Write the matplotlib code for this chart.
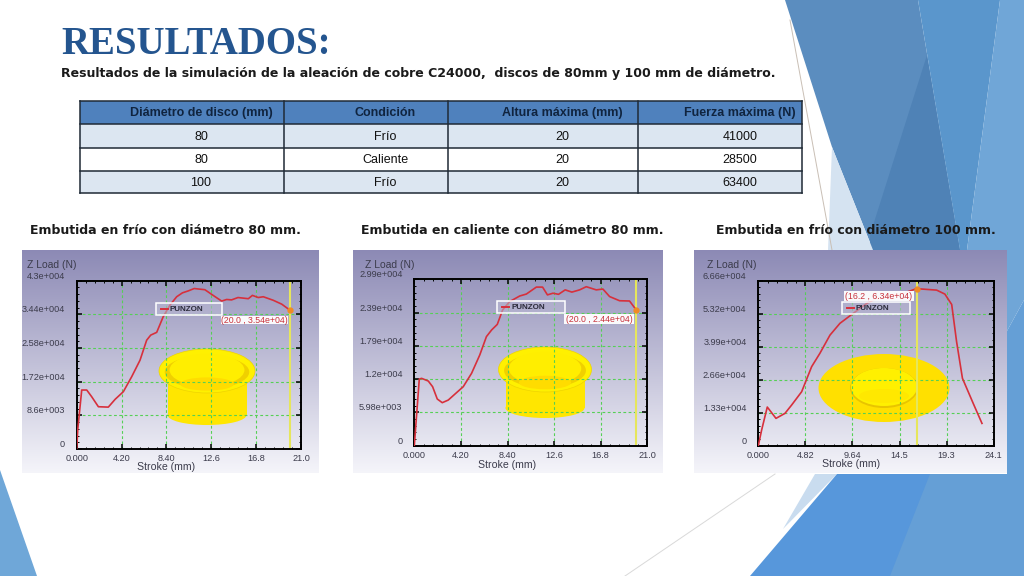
"""
Slide with a results table and three punch load curves.
"""

import matplotlib

matplotlib.use("Agg")

import matplotlib.pyplot as plt
import numpy as np
from matplotlib.patches import Ellipse, Polygon, Rectangle
from matplotlib.ticker import AutoMinorLocator

WIDTH = 1024
HEIGHT = 576

TABLE_HEADER = ["Diámetro de disco (mm)", "Condición", "Altura máxima (mm)", "Fuerza máxima (N)"]
TABLE_DIAMETER = ["80", "80", "100"]
TABLE_CONDITION = ["Frío", "Caliente", "Frío"]
TABLE_HEIGHT = ["20", "20", "20"]
TABLE_FORCE = ["41000", "28500", "63400"]

STROKE_1 = [0, 0.1, 0.47, 0.94, 1.4, 2.03, 2.96, 3.6, 4.37, 5.15, 5.93, 6.55, 6.93, 7.49, 8.1, 8.74, 9.36,
            9.9, 10.45, 11, 12, 12.8, 13.57, 14.04, 14.5, 15.1, 16.07, 16.45, 17, 17.47, 18.4, 19.2, 20]
LOAD_1 = [0, 5000, 15070, 15070, 13370, 10800, 10700, 12700, 14650, 18480, 22700, 27800, 29100, 29800,
          33800, 36800, 38900, 39900, 40400, 41000, 40700, 39200, 37800, 38200, 38100, 38700, 38400,
          39250, 38700, 38900, 38000, 37000, 35400]

STROKE_2 = [0, 0.45, 0.66, 1.26, 1.65, 2.07, 2.52, 3.06, 3.8, 4.41, 5.16, 5.9, 6.5, 6.97, 7.48, 7.96, 8.6,
            9.5, 10.1, 11, 11.56, 12, 12.5, 13, 13.6, 14.2, 14.9, 15.5, 16.4, 17, 17.6, 18.5, 19.4, 20]
LOAD_2 = [0, 11980, 12100, 11620, 10600, 8390, 7730, 8200, 9520, 10600, 13000, 16300, 19600, 20800, 21800,
          24400, 25900, 26900, 27250, 28500, 28500, 27100, 27400, 27200, 28000, 27600, 28000, 28570,
          28000, 28150, 26800, 26050, 26000, 24400]

STROKE_3 = [0, 0.34, 0.92, 1.81, 2.73, 3.41, 4.44, 5.46, 6.3, 7.34, 8.36, 9.39, 10.4, 11.1, 12.1, 13.5,
            14.85, 16.2, 17.2, 18.26, 19.1, 19.8, 20.3, 20.9, 22, 22.9]
LOAD_3 = [0, 6300, 15600, 11030, 13050, 16400, 21800, 31900, 37250, 44650, 49400, 52450, 55400, 57400,
          59450, 60800, 61500, 63400, 63100, 62800, 61200, 57000, 42000, 27200, 17100, 9000]

XTICKS_1 = [0, 4.2, 8.4, 12.6, 16.8, 21.0]
XLABELS_1 = ["0.000", "4.20", "8.40", "12.6", "16.8", "21.0"]
YTICKS_1 = [0, 8600, 17200, 25800, 34400, 43000]
YLABELS_1 = ["0", "8.6e+003", "1.72e+004", "2.58e+004", "3.44e+004", "4.3e+004"]

XTICKS_2 = XTICKS_1
XLABELS_2 = XLABELS_1
YTICKS_2 = [0, 5980, 11960, 17940, 23920, 29900]
YLABELS_2 = ["0", "5.98e+003", "1.2e+004", "1.79e+004", "2.39e+004", "2.99e+004"]

XTICKS_3 = [0, 4.82, 9.64, 14.46, 19.28, 24.1]
XLABELS_3 = ["0.000", "4.82", "9.64", "14.5", "19.3", "24.1"]
YTICKS_3 = [0, 13320, 26640, 39960, 53280, 66600]
YLABELS_3 = ["0", "1.33e+004", "2.66e+004", "3.99e+004", "5.32e+004", "6.66e+004"]

CURSOR_X = [20.0, 20.0, 16.2]
CURSOR_Y = [35400, 24400, 63400]
CURSOR_LABELS = ["(20.0 , 3.54e+04)", "(20.0 , 2.44e+04)", "(16.2 , 6.34e+04)"]
CAPTIONS = [
    "Embutida en frío con diámetro 80 mm.",
    "Embutida en caliente con diámetro 80 mm.",
    "Embutida en frío con diámetro 100 mm.",
]


def full_axes(figure, zorder):
    axis = figure.add_axes([0, 0, 1, 1], zorder=zorder)
    axis.set_xlim(0, WIDTH)
    axis.set_ylim(HEIGHT, 0)
    axis.axis("off")
    axis.patch.set_alpha(0)
    return axis


def draw_background(axis):
    shapes = [
        ([(785, 0), (918, 0), (960, 250), (873, 250), (832, 147)], "#5b8dbf"),
        ([(927, 55), (960, 250), (870, 250), (870, 235)], "#4f82b6"),
        ([(918, 0), (1000, 0), (967, 250), (960, 250)], "#5a96cc"),
        ([(1000, 0), (1024, 0), (1024, 300), (1007, 331), (1007, 250), (967, 250)], "#70a6d7"),
        ([(832, 147), (873, 250), (828, 250)], "#d5e3f1"),
        ([(815, 474), (837, 474), (783, 529)], "#c9dcef"),
        ([(750, 576), (837, 474), (930, 474), (1010, 576)], "#5797db"),
        ([(930, 474), (1007, 474), (1007, 331), (1024, 300), (1024, 576), (890, 576)], "#659fd6"),
        ([(0, 470), (37, 576), (0, 576)], "#6fa7d8"),
    ]
    for points, color in shapes:
        axis.add_patch(Polygon(points, closed=True, facecolor=color, edgecolor="none", zorder=1))
    axis.plot([790, 832], [20, 250], color="#c9bfb5", linewidth=0.7, zorder=1.5)
    axis.plot([625, 775], [576, 474], color="#d9d9d9", linewidth=0.7, zorder=1.5)


def draw_panel(axis, left, right):
    top, bottom = 250, 473
    shade = np.linspace(0, 1, 200)[:, None, None]
    upper = np.array([0.55, 0.54, 0.71]).reshape(1, 1, 3)
    lower = np.array([0.96, 0.96, 0.98]).reshape(1, 1, 3)
    gradient = upper * (1 - shade) + lower * shade
    axis.imshow(gradient, extent=(left, right, bottom, top), aspect="auto", zorder=2)
    axis.set_xlim(0, WIDTH)
    axis.set_ylim(HEIGHT, 0)


def draw_bowl(axis, center, rim_top, rim_width, rim_height, body_width, body_bottom):
    rim_y = rim_top + rim_height / 2
    body_left = center - body_width / 2
    axis.add_patch(Rectangle((body_left, rim_y), body_width, body_bottom - rim_y - 10,
                             facecolor="#ffe600", edgecolor="none", zorder=3))
    axis.add_patch(Ellipse((center, body_bottom - 10), body_width, 20, facecolor="#ffe600",
                           edgecolor="none", zorder=3))
    axis.add_patch(Ellipse((center, rim_y), rim_width, rim_height, facecolor="#fff000",
                           edgecolor="#eed400", linewidth=0.5, zorder=3.1))
    axis.add_patch(Ellipse((center, rim_y + 1), rim_width * 0.88, rim_height * 0.76, facecolor="#f0d000",
                           edgecolor="none", zorder=3.2))
    axis.add_patch(Ellipse((center, rim_y - 1), rim_width * 0.78, rim_height * 0.74, facecolor="#ffee00",
                           edgecolor="none", zorder=3.3))
    axis.add_patch(Ellipse((center, rim_y + 13), rim_width * 0.56, rim_height * 0.3, facecolor="#ffdc00",
                           edgecolor="none", zorder=3.4))


def draw_disc(axis, center_x, center_y):
    axis.add_patch(Ellipse((center_x, center_y), 131, 68, facecolor="#ffe000", edgecolor="none", zorder=3))
    axis.add_patch(Ellipse((center_x, center_y), 68, 40, facecolor="#e8c400", edgecolor="none", zorder=3.1))
    axis.add_patch(Ellipse((center_x, center_y - 1), 66, 38, facecolor="#fff000", edgecolor="none", zorder=3.2))
    axis.add_patch(Ellipse((center_x, center_y + 8), 50, 14, facecolor="#ffe800", edgecolor="none", zorder=3.3))


def draw_chart(figure, box, stroke, load, xticks, xlabels, yticks, ylabels, cursor_x, cursor_y):
    left, top, right, bottom = box
    axis = figure.add_axes(
        [left / WIDTH, 1 - bottom / HEIGHT, (right - left) / WIDTH, (bottom - top) / HEIGHT], zorder=2
    )
    axis.patch.set_alpha(0)
    axis.grid(color="#55d055", linestyle=(0, (2.5, 2.2)), linewidth=0.8)
    axis.axvline(cursor_x, color="#e6e65c", linewidth=1.5, zorder=2)
    axis.plot(stroke, load, color="#d7303c", linewidth=1.2, zorder=3)
    axis.plot([cursor_x], [cursor_y], marker="o", markersize=3.5, color="#f08a24", zorder=4)
    axis.set_xlim(xticks[0], xticks[-1])
    axis.set_ylim(yticks[0], yticks[-1])
    axis.set_xticks(xticks)
    axis.set_xticklabels(xlabels)
    axis.set_yticks(yticks)
    axis.set_yticklabels(ylabels, va="bottom")
    axis.xaxis.set_minor_locator(AutoMinorLocator(5))
    axis.yaxis.set_minor_locator(AutoMinorLocator(5))
    axis.tick_params(which="major", direction="in", top=True, right=True, length=3.5, width=1.1,
                     labelsize=6.6, labelcolor="#3c3c4c", pad=8.5)
    axis.tick_params(axis="x", which="major", pad=3.5)
    axis.tick_params(which="minor", direction="in", top=True, right=True, length=1.6, width=0.7)
    for spine in axis.spines.values():
        spine.set_linewidth(1.4)
    return axis


def draw_overlay(axis, legend_box, cursor_box, cursor_label, zload_x, stroke_x, label_y=467):
    x0, y0, x1, y1 = legend_box
    axis.add_patch(Rectangle((x0, y0), x1 - x0, y1 - y0, facecolor="#b9b8d2", alpha=0.55, edgecolor="none"))
    axis.add_patch(Rectangle((x0, y0), x1 - x0, y1 - y0, facecolor="none", edgecolor="white", linewidth=1.1))
    axis.plot([x0 + 5, x0 + 12], [(y0 + y1) / 2] * 2, color="#d7303c", linewidth=1.4)
    axis.text(x0 + 14, (y0 + y1) / 2 + 0.3, "PUNZON", fontsize=5.8, fontweight="bold", color="#2a2a3a",
              va="center", ha="left")

    x0, y0, x1, y1 = cursor_box
    axis.add_patch(Rectangle((x0, y0), x1 - x0, y1 - y0, facecolor="white", edgecolor="none", alpha=0.95))
    axis.text((x0 + x1) / 2, (y0 + y1) / 2 + 0.3, cursor_label, fontsize=6.3, color="#c8323c",
              va="center", ha="center")

    axis.text(zload_x, 265, "Z Load (N)", fontsize=7.5, color="#3c3c4c", ha="center", va="center")
    axis.text(stroke_x, label_y, "Stroke (mm)", fontsize=7.6, color="#3c3c4c", ha="center", va="center")


def draw_table(axis):
    col_edges = [80, 284, 448, 638, 802]
    row_edges = [101, 124, 148, 171, 193]
    text_x = [201, 385, 562, 740]
    rows = list(zip(TABLE_DIAMETER, TABLE_CONDITION, TABLE_HEIGHT, TABLE_FORCE))
    fills = ["#4f81bd", "#dce6f1", "#ffffff", "#dce6f1"]
    for row_index, cells in enumerate([TABLE_HEADER] + rows):
        top, bottom = row_edges[row_index], row_edges[row_index + 1]
        axis.add_patch(Rectangle((col_edges[0], top), col_edges[-1] - col_edges[0], bottom - top,
                                 facecolor=fills[row_index], edgecolor="none", zorder=3))
        for column, cell in enumerate(cells):
            axis.text(text_x[column], (top + bottom) / 2 + 0.5, cell, ha="center", va="center", fontsize=9,
                      color="#10243f" if row_index == 0 else "#111111",
                      fontweight="bold" if row_index == 0 else "normal", zorder=4)
    for y_value in row_edges:
        axis.plot([col_edges[0], col_edges[-1]], [y_value, y_value], color="#1f2a36", linewidth=1.1, zorder=5)
    for x_value in col_edges:
        axis.plot([x_value, x_value], [row_edges[0], row_edges[-1]], color="#1f2a36", linewidth=1.1, zorder=5)


def main():
    plt.rcParams["font.family"] = ["Liberation Sans", "DejaVu Sans"]
    figure = plt.figure(figsize=(WIDTH / 100, HEIGHT / 100), dpi=100, facecolor="white")
    base = full_axes(figure, 0)
    top = full_axes(figure, 3)

    draw_background(base)
    draw_panel(base, 22, 319)
    draw_panel(base, 353, 663)
    draw_panel(base, 694, 1007)
    draw_bowl(base, 207, 349, 96, 44, 79, 425)
    draw_bowl(base, 545, 347, 93, 45, 79, 418)
    draw_disc(base, 884, 388)

    base.text(61, 44, "RESULTADOS:", family="Liberation Serif", fontsize=28, fontweight="bold",
              color="#24558f", va="center", ha="left")
    base.text(61, 73, "Resultados de la simulación de la aleación de cobre C24000,  discos de 80mm y 100 mm de diámetro.",
              family="DejaVu Sans", fontsize=9.0, fontweight="bold", color="#1a1a1a", va="center", ha="left")
    draw_table(base)

    base.text(30, 230, CAPTIONS[0], family="DejaVu Sans", fontsize=9.0, fontweight="bold", color="#1a1a1a", va="center")
    base.text(361, 231, CAPTIONS[1], family="DejaVu Sans", fontsize=9.0, fontweight="bold", color="#1a1a1a", va="center")
    base.text(716, 231, CAPTIONS[2], family="DejaVu Sans", fontsize=9.0, fontweight="bold", color="#1a1a1a", va="center")

    draw_chart(figure, (76.7, 280.7, 301, 449), STROKE_1, LOAD_1, XTICKS_1, XLABELS_1, YTICKS_1, YLABELS_1,
               CURSOR_X[0], CURSOR_Y[0])
    draw_chart(figure, (414.3, 279.3, 647.3, 445.7), STROKE_2, LOAD_2, XTICKS_2, XLABELS_2, YTICKS_2, YLABELS_2,
               CURSOR_X[1], CURSOR_Y[1])
    draw_chart(figure, (758.3, 280.7, 993.7, 445.7), STROKE_3, LOAD_3, XTICKS_3, XLABELS_3, YTICKS_3, YLABELS_3,
               CURSOR_X[2], CURSOR_Y[2])

    draw_overlay(top, (156, 303, 222, 315), (221, 316, 288, 324), CURSOR_LABELS[0], 52, 166)
    draw_overlay(top, (497, 301, 565, 313), (564, 314, 634, 324), CURSOR_LABELS[1], 390, 507, 465)
    draw_overlay(top, (842, 302, 910, 314), (844, 291, 914, 301), CURSOR_LABELS[2], 732, 851, 464)

    figure.savefig("out.png", dpi=100, facecolor="white")
    plt.close(figure)


if __name__ == "__main__":
    main()
